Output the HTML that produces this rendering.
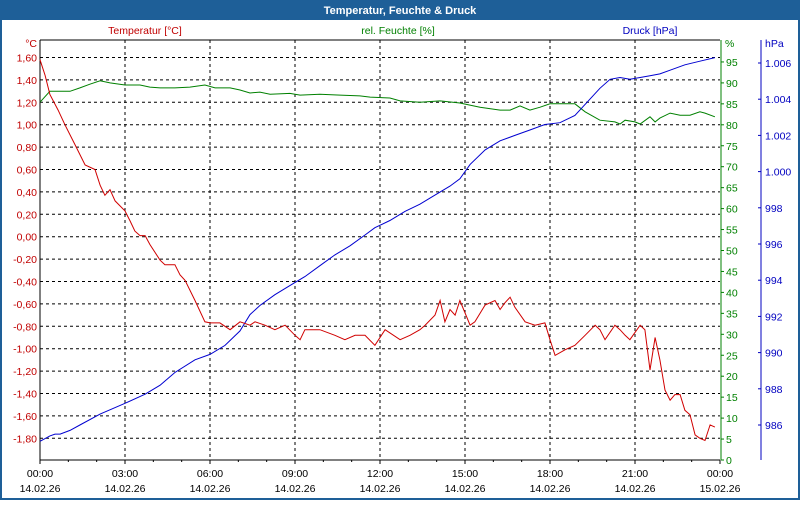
<!DOCTYPE html>
<html><head><meta charset="utf-8"><style>
body{margin:0;width:800px;height:500px;overflow:hidden;background:#fff;font-family:"Liberation Sans",sans-serif}
</style></head><body>
<svg id="c" width="800" height="500" xmlns="http://www.w3.org/2000/svg" font-family="Liberation Sans, sans-serif" font-size="10.5">
<rect x="1" y="1" width="798" height="498" fill="#fff" stroke="#1e5f98" stroke-width="2"/>
<rect x="0" y="0" width="800" height="20" fill="#1e5f98"/>
<text x="400" y="14" text-anchor="middle" fill="#fff" font-weight="bold" font-size="11">Temperatur, Feuchte &amp; Druck</text>
<text x="145" y="34" text-anchor="middle" fill="#c00000">Temperatur [°C]</text>
<text x="398" y="34" text-anchor="middle" fill="#008000">rel. Feuchte [%]</text>
<text x="650" y="34" text-anchor="middle" fill="#0000c0">Druck [hPa]</text>
<g id="grid"></g><g id="axes"></g><g id="series"></g>
</svg>
<script>
const tempHours=[0,0.18,0.35,0.64,0.88,1.24,1.59,1.94,2.12,2.29,2.47,2.65,3,3.18,3.35,3.53,3.71,3.88,4.24,4.41,4.76,4.94,5.12,5.47,5.82,6,6.35,6.71,7.06,7.41,7.59,7.94,8.29,8.65,9,9.18,9.35,9.88,10.41,10.76,11.12,11.47,11.82,12.18,12.71,13.06,13.41,13.59,13.94,14.12,14.29,14.47,14.65,14.82,15.18,15.35,15.71,16.06,16.24,16.41,16.59,16.76,17.12,17.47,17.82,18,18.18,18.53,18.88,19.24,19.59,19.76,19.94,20.29,20.47,20.65,20.82,21.18,21.35,21.53,21.71,21.88,22.06,22.24,22.41,22.59,22.76,22.94,23.12,23.29,23.47,23.65,23.82];
const tempValues=[1.58,1.44,1.27,1.13,1.00,0.82,0.64,0.60,0.46,0.37,0.42,0.32,0.23,0.14,0.05,0.01,0.01,-0.07,-0.21,-0.25,-0.25,-0.34,-0.39,-0.57,-0.76,-0.77,-0.77,-0.83,-0.76,-0.79,-0.76,-0.79,-0.83,-0.79,-0.88,-0.92,-0.83,-0.83,-0.88,-0.92,-0.88,-0.88,-0.97,-0.83,-0.92,-0.88,-0.83,-0.79,-0.70,-0.57,-0.76,-0.65,-0.70,-0.57,-0.79,-0.76,-0.61,-0.57,-0.65,-0.59,-0.54,-0.63,-0.76,-0.79,-0.77,-0.92,-1.06,-1.01,-0.97,-0.88,-0.79,-0.83,-0.92,-0.79,-0.83,-0.88,-0.92,-0.79,-0.83,-1.19,-0.90,-1.10,-1.37,-1.46,-1.41,-1.41,-1.55,-1.59,-1.77,-1.80,-1.82,-1.68,-1.70];
const humHours=[0,0.35,0.71,1.06,1.41,1.76,2.12,2.47,3,3.53,3.88,4.24,4.76,5.29,5.82,6.18,6.71,7.06,7.41,7.76,8.12,8.82,9.18,9.88,10.59,11.29,11.65,12.35,12.71,13.41,14.12,14.82,15.53,16.24,16.59,16.94,17.29,17.65,18,18.88,19.24,19.76,20.29,20.47,20.65,21,21.18,21.53,21.71,21.88,22.24,22.59,22.94,23.29,23.47,23.82];
const humValues=[85.4,88,88,88,88.8,89.7,90.5,90,89.5,89.5,89,88.8,88.8,89,89.5,88.8,88.8,88.3,87.6,87.8,87.3,87.5,87.1,87.3,87.1,86.9,86.6,86.4,85.7,85.4,85.7,85.2,84.2,83.5,83.5,84.5,83.5,84.2,85,85,83.1,81.1,80.7,80.2,81.1,80.7,80.2,81.9,80.7,81.6,82.8,82.3,82.3,83.1,82.8,81.9];
const presHours=[0,0.35,0.53,0.71,1.06,1.41,2.12,3,3.71,4.24,4.76,5.47,6,6.53,7.06,7.41,7.76,8.29,8.82,9.35,9.88,10.41,10.94,11.47,11.82,12.35,12.88,13.41,13.94,14.47,14.82,15.18,15.71,16.24,16.76,17.29,17.82,18.35,18.88,19.41,19.76,20.12,20.47,20.82,21.18,21.53,21.88,22.24,22.76,23.29,23.82];
const presValues=[985.1,985.4,985.5,985.5,985.7,986.0,986.6,987.2,987.7,988.2,988.9,989.6,989.9,990.4,991.2,992.1,992.6,993.2,993.7,994.2,994.8,995.4,995.9,996.5,996.9,997.3,997.8,998.2,998.7,999.2,999.6,1000.4,1001.2,1001.7,1002.0,1002.3,1002.6,1002.7,1003.1,1004.0,1004.6,1005.1,1005.2,1005.1,1005.2,1005.3,1005.4,1005.6,1005.9,1006.1,1006.3];
const tempTicks=[1.6,1.4,1.2,1.0,0.8,0.6,0.4,0.2,0,-0.2,-0.4,-0.6,-0.8,-1.0,-1.2,-1.4,-1.6,-1.8];
const humTicks=[95,90,85,80,75,70,65,60,55,50,45,40,35,30,25,20,15,10,5,0];
const presTicks=[1006,1004,1002,1000,998,996,994,992,990,988,986];
const timeLabels=["00:00","03:00","06:00","09:00","12:00","15:00","18:00","21:00","00:00"];
const dateLabels=["14.02.26","14.02.26","14.02.26","14.02.26","14.02.26","14.02.26","14.02.26","14.02.26","15.02.26"];

const X0=40,X1=720,Y0=40,Y1=460;
const xS=h=>X0+h*(X1-X0)/24;
const yT=t=>57.5+(1.6-t)*112;
const yH=v=>460-v*4.19;
const yP=p=>63+(1006-p)*18.1;
const NS="http://www.w3.org/2000/svg";
function mk(parent,tag,attrs){const e=document.createElementNS(NS,tag);for(const k in attrs)e.setAttribute(k,attrs[k]);document.getElementById(parent).appendChild(e);return e;}
// grid
tempTicks.forEach(t=>{
  const l=mk('grid','line',{x1:X0,x2:X1,y1:yT(t),y2:yT(t),stroke:'#000','stroke-dasharray':'3,3'});
  
  
  const tx=mk('axes','text',{x:37,y:yT(t)+4,'text-anchor':'end',fill:'#c00000'});
  tx.textContent=t.toFixed(2).replace('.',',');
  
  
});
for(let i=1;i<8;i++){
  const l=mk('grid','line',{x1:xS(i*3),x2:xS(i*3),y1:Y0,y2:Y1,stroke:'#000','stroke-dasharray':'3,3'});
  
  
}
// axes
[[X0,Y0,X0,Y1,'#000'],[X0,Y0,X1,Y0,'#000'],[X0,Y1,X1,Y1,'#000'],[721,Y0,721,Y1,'#008000'],[761,Y0,761,Y1,'#0000c0']].forEach(a=>{
  const l=mk('axes','line',{x1:a[0],y1:a[1],x2:a[2],y2:a[3],stroke:a[4]});
  
  
});
for(let i=0;i<=24;i++){
  const l=mk('axes','line',{x1:xS(i),x2:xS(i),y1:Y1,y2:Y1+(i%3==0?4:2),stroke:'#000'});
  
  
}
timeLabels.forEach((s,i)=>{
  const t=mk('axes','text',{x:xS(i*3),y:477,'text-anchor':'middle',fill:'#000'});t.textContent=s;
  
  
  const d=mk('axes','text',{x:xS(i*3),y:492,'text-anchor':'middle',fill:'#000'});d.textContent=dateLabels[i];
  
  
});
humTicks.forEach(v=>{
  const l=mk('axes','line',{x1:721,x2:724,y1:yH(v),y2:yH(v),stroke:'#008000'});
  
  
  const t=mk('axes','text',{x:726,y:yH(v)+4,fill:'#008000'});t.textContent=v;
  
  
});
presTicks.forEach(p=>{
  const l=mk('axes','line',{x1:758,x2:761,y1:yP(p),y2:yP(p),stroke:'#0000c0'});
  
  
  const t=mk('axes','text',{x:765,y:yP(p)+4,fill:'#0000c0'});t.textContent=p>=1000?('1.'+String(p).slice(1)):String(p);
  
  
});
[['°C',37,47,'end','#c00000','temp-unit'],['%',725,47,'start','#008000','humidity-unit'],['hPa',765,47,'start','#0000c0','pressure-unit']].forEach(u=>{
  const t=mk('axes','text',{x:u[1],y:u[2],'text-anchor':u[3],fill:u[4]});t.textContent=u[0];
  
  
});
function line(hs,vs,yf,col,name){
  const d=hs.map((h,i)=>(i?'L':'M')+xS(h).toFixed(1)+','+yf(vs[i]).toFixed(1)).join('');
  const p=mk('series','path',{d:d,fill:'none',stroke:col,'stroke-width':1});
  
  
}
line(humHours,humValues,yH,'#008000','humidity-line');
line(presHours,presValues,yP,'#0000d0','pressure-line');
line(tempHours,tempValues,yT,'#d00000','temperature-line');
</script>
</body></html>
